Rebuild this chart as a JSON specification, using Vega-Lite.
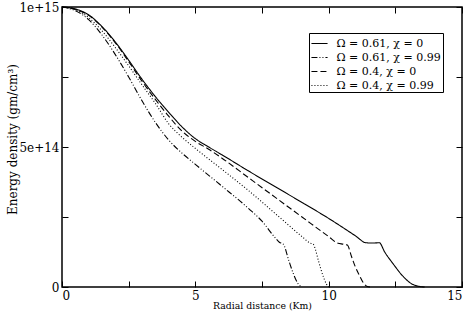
{
  "$schema": "https://vega.github.io/schema/vega-lite/v6.json",
  "width": 400,
  "height": 280,
  "autosize": {"type": "none"},
  "padding": {"left": 62, "top": 7, "right": 8, "bottom": 30},
  "background": "white",
  "config": {
    "view": {"stroke": "#000", "strokeWidth": 1.5},
    "font": "DejaVu Serif",
    "axis": {
      "domain": false,
      "grid": false,
      "tickColor": "black",
      "tickSize": -6,
      "tickWidth": 1,
      "labelFont": "DejaVu Serif",
      "labelFontSize": 12,
      "labelColor": "black",
      "titleFont": "DejaVu Serif",
      "titleColor": "black",
      "titleFontWeight": "normal"
    },
    "legend": {
      "labelFont": "DejaVu Serif"
    }
  },
  "data": {
    "values": [
      {"s": "Ω = 0.61, χ = 0", "r": 0, "e": 1e15},
      {"s": "Ω = 0.61, χ = 0", "r": 0.5, "e": 9.93e14},
      {"s": "Ω = 0.61, χ = 0", "r": 1, "e": 9.72e14},
      {"s": "Ω = 0.61, χ = 0", "r": 1.5, "e": 9.3e14},
      {"s": "Ω = 0.61, χ = 0", "r": 2, "e": 8.75e14},
      {"s": "Ω = 0.61, χ = 0", "r": 2.5, "e": 8.1e14},
      {"s": "Ω = 0.61, χ = 0", "r": 3, "e": 7.42e14},
      {"s": "Ω = 0.61, χ = 0", "r": 3.5, "e": 6.8e14},
      {"s": "Ω = 0.61, χ = 0", "r": 4, "e": 6.24e14},
      {"s": "Ω = 0.61, χ = 0", "r": 4.5, "e": 5.72e14},
      {"s": "Ω = 0.61, χ = 0", "r": 5, "e": 5.3e14},
      {"s": "Ω = 0.61, χ = 0", "r": 5.5, "e": 5.0e14},
      {"s": "Ω = 0.61, χ = 0", "r": 6, "e": 4.72e14},
      {"s": "Ω = 0.61, χ = 0", "r": 7, "e": 4.14e14},
      {"s": "Ω = 0.61, χ = 0", "r": 8, "e": 3.58e14},
      {"s": "Ω = 0.61, χ = 0", "r": 9, "e": 3.02e14},
      {"s": "Ω = 0.61, χ = 0", "r": 10, "e": 2.45e14},
      {"s": "Ω = 0.61, χ = 0", "r": 11, "e": 1.83e14},
      {"s": "Ω = 0.61, χ = 0", "r": 11.4, "e": 1.58e14},
      {"s": "Ω = 0.61, χ = 0", "r": 11.65, "e": 1.57e14},
      {"s": "Ω = 0.61, χ = 0", "r": 11.9, "e": 1.58e14},
      {"s": "Ω = 0.61, χ = 0", "r": 12.1, "e": 1.25e14},
      {"s": "Ω = 0.61, χ = 0", "r": 12.4, "e": 8.5e13},
      {"s": "Ω = 0.61, χ = 0", "r": 12.8, "e": 3.7e13},
      {"s": "Ω = 0.61, χ = 0", "r": 13.1, "e": 1.2e13},
      {"s": "Ω = 0.61, χ = 0", "r": 13.35, "e": 3e12},
      {"s": "Ω = 0.61, χ = 0", "r": 13.6, "e": 0},

      {"s": "Ω = 0.61, χ = 0.99", "r": 0, "e": 1e15},
      {"s": "Ω = 0.61, χ = 0.99", "r": 0.5, "e": 9.87e14},
      {"s": "Ω = 0.61, χ = 0.99", "r": 1, "e": 9.55e14},
      {"s": "Ω = 0.61, χ = 0.99", "r": 1.5, "e": 9.0e14},
      {"s": "Ω = 0.61, χ = 0.99", "r": 2, "e": 8.3e14},
      {"s": "Ω = 0.61, χ = 0.99", "r": 2.5, "e": 7.5e14},
      {"s": "Ω = 0.61, χ = 0.99", "r": 3, "e": 6.65e14},
      {"s": "Ω = 0.61, χ = 0.99", "r": 3.5, "e": 5.88e14},
      {"s": "Ω = 0.61, χ = 0.99", "r": 4, "e": 5.25e14},
      {"s": "Ω = 0.61, χ = 0.99", "r": 4.5, "e": 4.78e14},
      {"s": "Ω = 0.61, χ = 0.99", "r": 5, "e": 4.38e14},
      {"s": "Ω = 0.61, χ = 0.99", "r": 6, "e": 3.6e14},
      {"s": "Ω = 0.61, χ = 0.99", "r": 7, "e": 2.8e14},
      {"s": "Ω = 0.61, χ = 0.99", "r": 7.5, "e": 2.35e14},
      {"s": "Ω = 0.61, χ = 0.99", "r": 8, "e": 1.75e14},
      {"s": "Ω = 0.61, χ = 0.99", "r": 8.15, "e": 1.6e14},
      {"s": "Ω = 0.61, χ = 0.99", "r": 8.3, "e": 1.53e14},
      {"s": "Ω = 0.61, χ = 0.99", "r": 8.5, "e": 9.6e13},
      {"s": "Ω = 0.61, χ = 0.99", "r": 8.67, "e": 4.9e13},
      {"s": "Ω = 0.61, χ = 0.99", "r": 8.85, "e": 1.2e13},
      {"s": "Ω = 0.61, χ = 0.99", "r": 9.0, "e": 0},

      {"s": "Ω = 0.4, χ = 0", "r": 0, "e": 1e15},
      {"s": "Ω = 0.4, χ = 0", "r": 0.5, "e": 9.92e14},
      {"s": "Ω = 0.4, χ = 0", "r": 1, "e": 9.7e14},
      {"s": "Ω = 0.4, χ = 0", "r": 1.5, "e": 9.28e14},
      {"s": "Ω = 0.4, χ = 0", "r": 2, "e": 8.72e14},
      {"s": "Ω = 0.4, χ = 0", "r": 2.5, "e": 8.05e14},
      {"s": "Ω = 0.4, χ = 0", "r": 3, "e": 7.35e14},
      {"s": "Ω = 0.4, χ = 0", "r": 3.5, "e": 6.7e14},
      {"s": "Ω = 0.4, χ = 0", "r": 4, "e": 6.1e14},
      {"s": "Ω = 0.4, χ = 0", "r": 4.5, "e": 5.57e14},
      {"s": "Ω = 0.4, χ = 0", "r": 5, "e": 5.2e14},
      {"s": "Ω = 0.4, χ = 0", "r": 5.5, "e": 4.92e14},
      {"s": "Ω = 0.4, χ = 0", "r": 6, "e": 4.6e14},
      {"s": "Ω = 0.4, χ = 0", "r": 7, "e": 3.9e14},
      {"s": "Ω = 0.4, χ = 0", "r": 8, "e": 3.2e14},
      {"s": "Ω = 0.4, χ = 0", "r": 9, "e": 2.5e14},
      {"s": "Ω = 0.4, χ = 0", "r": 10, "e": 1.8e14},
      {"s": "Ω = 0.4, χ = 0", "r": 10.35, "e": 1.56e14},
      {"s": "Ω = 0.4, χ = 0", "r": 10.55, "e": 1.53e14},
      {"s": "Ω = 0.4, χ = 0", "r": 10.7, "e": 1.5e14},
      {"s": "Ω = 0.4, χ = 0", "r": 10.86, "e": 1.08e14},
      {"s": "Ω = 0.4, χ = 0", "r": 11.0, "e": 7.2e13},
      {"s": "Ω = 0.4, χ = 0", "r": 11.15, "e": 4.2e13},
      {"s": "Ω = 0.4, χ = 0", "r": 11.3, "e": 1.5e13},
      {"s": "Ω = 0.4, χ = 0", "r": 11.45, "e": 2e12},
      {"s": "Ω = 0.4, χ = 0", "r": 11.55, "e": 0},

      {"s": "Ω = 0.4, χ = 0.99", "r": 0, "e": 1e15},
      {"s": "Ω = 0.4, χ = 0.99", "r": 0.5, "e": 9.9e14},
      {"s": "Ω = 0.4, χ = 0.99", "r": 1, "e": 9.62e14},
      {"s": "Ω = 0.4, χ = 0.99", "r": 1.5, "e": 9.15e14},
      {"s": "Ω = 0.4, χ = 0.99", "r": 2, "e": 8.55e14},
      {"s": "Ω = 0.4, χ = 0.99", "r": 2.5, "e": 7.9e14},
      {"s": "Ω = 0.4, χ = 0.99", "r": 3, "e": 7.22e14},
      {"s": "Ω = 0.4, χ = 0.99", "r": 3.5, "e": 6.56e14},
      {"s": "Ω = 0.4, χ = 0.99", "r": 4, "e": 5.83e14},
      {"s": "Ω = 0.4, χ = 0.99", "r": 4.5, "e": 5.35e14},
      {"s": "Ω = 0.4, χ = 0.99", "r": 5, "e": 4.95e14},
      {"s": "Ω = 0.4, χ = 0.99", "r": 6, "e": 4.2e14},
      {"s": "Ω = 0.4, χ = 0.99", "r": 7, "e": 3.44e14},
      {"s": "Ω = 0.4, χ = 0.99", "r": 8, "e": 2.62e14},
      {"s": "Ω = 0.4, χ = 0.99", "r": 9, "e": 1.8e14},
      {"s": "Ω = 0.4, χ = 0.99", "r": 9.3, "e": 1.57e14},
      {"s": "Ω = 0.4, χ = 0.99", "r": 9.42, "e": 1.53e14},
      {"s": "Ω = 0.4, χ = 0.99", "r": 9.5, "e": 1.35e14},
      {"s": "Ω = 0.4, χ = 0.99", "r": 9.61, "e": 9.6e13},
      {"s": "Ω = 0.4, χ = 0.99", "r": 9.8, "e": 3.7e13},
      {"s": "Ω = 0.4, χ = 0.99", "r": 9.92, "e": 1e13},
      {"s": "Ω = 0.4, χ = 0.99", "r": 10.0, "e": 0}
    ]
  },
  "layer": [
    {
      "mark": {"type": "line", "interpolate": "monotone", "color": "black", "strokeWidth": 1.1},
      "encoding": {
        "x": {
          "field": "r", "type": "quantitative",
          "scale": {"domain": [0, 15], "nice": false, "zero": false},
          "axis": {
            "orient": "bottom",
            "values": [0, 2.5, 5, 7.5, 10, 12.5, 15],
            "labelExpr": "datum.value % 5 == 0 ? datum.label : ''",
            "labelPadding": 9,
            "title": "Radial distance (Km)",
            "titleFontSize": 9.3,
            "titleBaseline": "alphabetic",
            "titleY": 21
          }
        },
        "y": {
          "field": "e", "type": "quantitative",
          "scale": {"domain": [0, 1e15], "nice": false},
          "axis": {
            "orient": "left",
            "values": [0, 2.5e14, 5e14, 7.5e14, 1e15],
            "labelExpr": "datum.value == 0 ? '0' : (datum.value % 5e14 == 0 ? format(datum.value, '.0e') : '')",
            "labelPadding": 9,
            "title": "Energy density (gm/cm³)",
            "titleFontSize": 12,
            "titleAngle": -90,
            "titleBaseline": "middle",
            "titleAlign": "center",
            "titleX": -50,
            "titleY": 132
          }
        },
        "strokeDash": {
          "field": "s", "type": "nominal",
          "scale": {
            "domain": ["Ω = 0.61, χ = 0", "Ω = 0.61, χ = 0.99", "Ω = 0.4, χ = 0", "Ω = 0.4, χ = 0.99"],
            "range": [[1, 0], [6, 2, 1, 2, 1, 2], [6, 3], [1, 2]]
          },
          "legend": {
            "orient": "none",
            "legendX": 247,
            "legendY": 26,
            "title": null,
            "strokeColor": "black",
            "fillColor": "white",
            "padding": 1.5,
            "cornerRadius": 0,
            "symbolType": "stroke",
            "symbolStrokeColor": "black",
            "symbolStrokeWidth": 1.1,
            "symbolSize": 260,
            "labelFont": "DejaVu Serif",
            "labelFontSize": 11,
            "labelColor": "black",
            "labelOffset": 8,
            "rowPadding": 0,
            "labelLimit": 300
          }
        }
      }
    },
    {
      "mark": {"type": "point", "opacity": 0},
      "encoding": {
        "x": {
          "field": "r", "type": "quantitative",
          "axis": {"orient": "top", "values": [0, 2.5, 5, 7.5, 10, 12.5, 15], "labels": false, "title": null}
        },
        "y": {
          "field": "e", "type": "quantitative",
          "axis": {"orient": "right", "values": [0, 2.5e14, 5e14, 7.5e14, 1e15], "labels": false, "title": null}
        }
      }
    }
  ],
  "resolve": {"axis": {"x": "independent", "y": "independent"}}
}
